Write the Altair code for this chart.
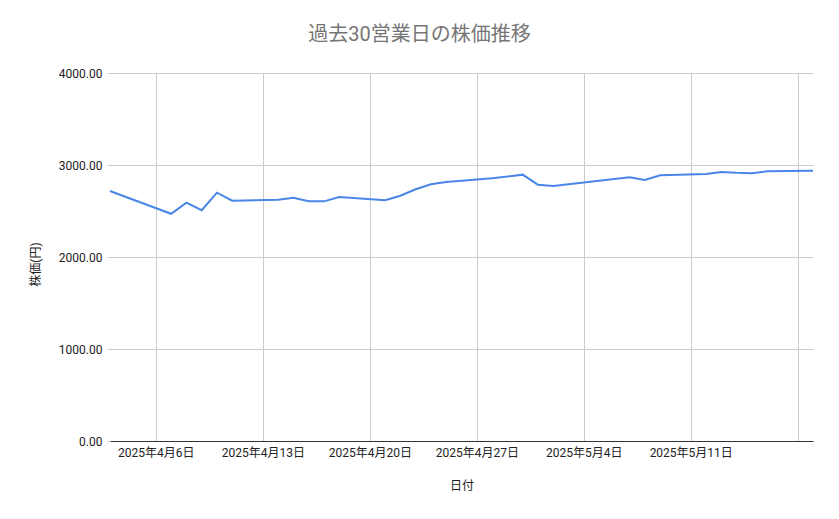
import altair as alt
import pandas as pd

dates = ["2025-04-03", "2025-04-04", "2025-04-07", "2025-04-08", "2025-04-09",
         "2025-04-10", "2025-04-11", "2025-04-14", "2025-04-15", "2025-04-16",
         "2025-04-17", "2025-04-18", "2025-04-21", "2025-04-22", "2025-04-23",
         "2025-04-24", "2025-04-25", "2025-04-28", "2025-04-30", "2025-05-01",
         "2025-05-02", "2025-05-07", "2025-05-08", "2025-05-09", "2025-05-12",
         "2025-05-13", "2025-05-14", "2025-05-15", "2025-05-16", "2025-05-19"]
prices = [2717, 2655, 2470, 2590, 2508, 2699, 2612, 2622, 2645, 2605,
          2605, 2652, 2616, 2666, 2736, 2790, 2815, 2855, 2895, 2786,
          2772, 2866, 2837, 2888, 2902, 2924, 2915, 2910, 2932, 2938]
y_ticks = [0, 1000, 2000, 3000, 4000]
tick_dates = [(2025, 4, 6), (2025, 4, 13), (2025, 4, 20), (2025, 4, 27),
              (2025, 5, 4), (2025, 5, 11), (2025, 5, 18)]

df = pd.DataFrame({"日付": dates, "株価": prices})

FONT = "Roboto, 'Noto Sans CJK JP', sans-serif"

x_axis = alt.Axis(
    title="日付",
    values=[alt.DateTime(year=y, month=m, date=d, utc=True) for (y, m, d) in tick_dates],
    labelExpr="utcFormat(datum.value, '%m-%d') == '05-18' ? '' : utcFormat(datum.value, '%Y年%-m月%-d日')",
    grid=True,
    gridColor="#cccccc",
    ticks=False,
    tickSize=0,
    domain=True,
    domainColor="#333333",
    domainWidth=1,
    labelPadding=6,
    labelFontSize=12,
    labelColor="#222222",
    labelFont=FONT,
    titleFont=FONT,
    titleFontSize=12,
    titleFontWeight="normal",
    titleColor="#222222",
    titleBaseline="middle",
    titleY=44,
)

y_axis = alt.Axis(
    title="株価(円)",
    values=y_ticks,
    format=".2f",
    grid=True,
    gridColor="#cccccc",
    ticks=True,
    tickSize=3,
    tickColor="#cccccc",
    domain=False,
    labelPadding=5,
    labelFontSize=12,
    labelColor="#222222",
    labelFont=FONT,
    titleFont=FONT,
    titleFontSize=12,
    titleFontWeight="normal",
    titleColor="#222222",
    titleBaseline="middle",
    titleX=-75,
    titleY=191,
)

chart = alt.Chart(df).mark_line(color="#4a86e8", strokeWidth=2).encode(
    x=alt.X("日付:T", axis=x_axis,
            scale=alt.Scale(type="utc",
                            domain=[alt.DateTime(year=2025, month=4, date=3, utc=True),
                                    alt.DateTime(year=2025, month=5, date=19, utc=True)],
                            nice=False)),
    y=alt.Y("株価:Q", axis=y_axis, scale=alt.Scale(domain=[0, 4000], nice=False)),
).properties(
    width=703,
    height=368,
    autosize=alt.AutoSizeParams(type="none"),
    padding={"left": 102, "top": 65, "right": 18, "bottom": 62},
    title=alt.TitleParams(
        "過去30営業日の株価推移",
        font=FONT,
        fontSize=20,
        fontWeight="normal",
        color="#757575",
        anchor="middle",
        dx=-42,
        offset=22,
    ),
).configure_view(stroke=None)

chart.save("out.html", embed_options={"renderer": "svg", "actions": False})
